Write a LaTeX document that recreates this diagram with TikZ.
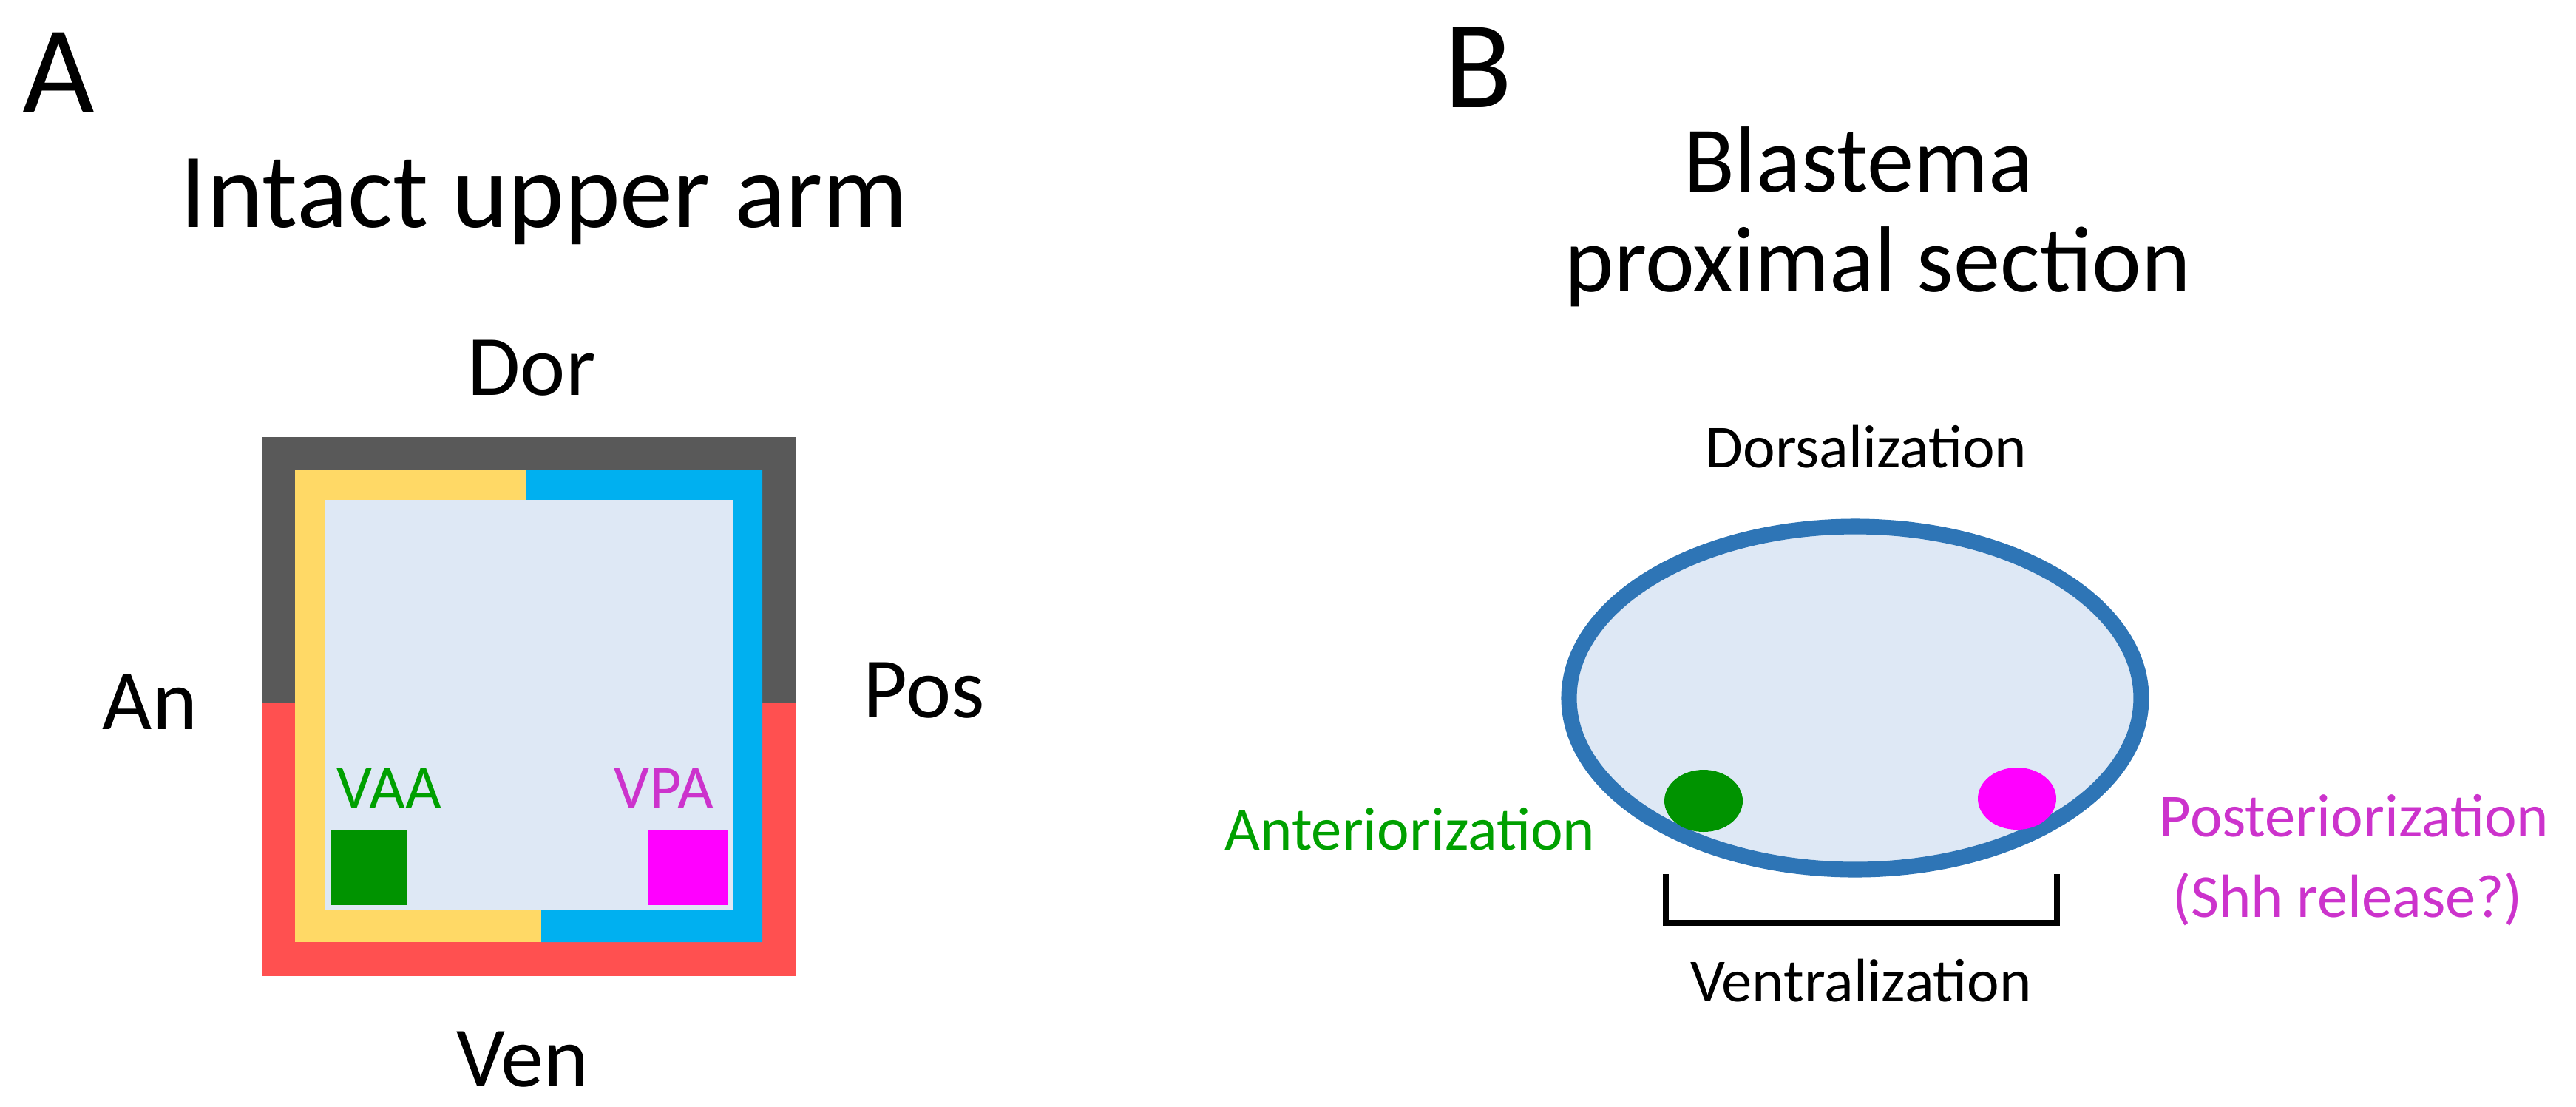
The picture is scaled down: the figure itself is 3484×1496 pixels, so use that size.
\documentclass[tikz,border=0pt]{standalone}
\usepackage{fontspec}
\setmainfont{Carlito}
\definecolor{dgray}{HTML}{595959}
\definecolor{lred}{HTML}{FF5050}
\definecolor{lyel}{HTML}{FFD966}
\definecolor{lblue}{HTML}{00B0F0}
\definecolor{pale}{HTML}{DEE8F5}
\definecolor{dgreen}{HTML}{009300}
\definecolor{mag}{HTML}{FF00FF}
\definecolor{tmag}{HTML}{CC33CC}
\definecolor{tgreen}{HTML}{00A000}
\definecolor{estroke}{HTML}{2E75B6}
\begin{document}
\begin{tikzpicture}[x=0.01cm,y=-0.01cm,
  lbl/.style={anchor=base,inner sep=0pt},
  fs/.style={font=\fontsize{#1}{#1}\selectfont}]
\useasboundingbox (0,0) rectangle (3484,1496);
% Panel A
\node[lbl,fs=48pt,anchor=base west] (A) at (30,152) {A};
\node[lbl,fs=41pt] (tA) at (736,307) {Intact upper arm};
\fill[lred] (354,591) rectangle (1076,1320);
\fill[dgray] (354,591) rectangle (1076,951);
\fill[lyel] (399,635) rectangle (1031,1274);
\fill[lblue] (712,635) -- (1031,635) -- (1031,1274) -- (732,1274) -- (732,1231) -- (992,1231) -- (992,676) -- (712,676) -- cycle;
\fill[pale] (439,676) rectangle (992,1231);
\fill[dgreen] (447,1122) rectangle (551,1224);
\fill[mag] (876,1122) rectangle (985,1224);
\node[lbl,fs=24pt,text=tgreen] (vaa) at (526,1093) {VAA};
\node[lbl,fs=24pt,text=tmag] (vpa) at (898,1093) {VPA};
\node[lbl,fs=33pt] (dor) at (719,534) {Dor};
\node[lbl,fs=33pt] (an) at (203,986) {An};
\node[lbl,fs=33pt] (pos) at (1250,970) {Pos};
\node[lbl,fs=33pt] (ven) at (707,1469) {Ven};
% Panel B
\node[lbl,fs=48pt,anchor=base east] (B) at (2046,145) {B};
\node[lbl,fs=36pt] (tB) at (2514,259) {Blastema};
\node[lbl,fs=36pt] (tB2) at (2540,394) {proximal section};
\node[lbl,fs=23.5pt] (dz) at (2524,632) {Dorsalization};
\draw[estroke,line width=6pt,fill=pale] (2509,944) ellipse [x radius=387, y radius=232];
\begin{scope}
\clip (2509,944) ellipse [x radius=387, y radius=232];
\fill[dgreen] (2304,1083) ellipse [x radius=53, y radius=42];
\fill[mag] (2728,1080) ellipse [x radius=53, y radius=42];
\end{scope}
\draw[line width=2.3pt] (2253,1182) -- (2253,1248) -- (2782,1248) -- (2782,1182);
\node[lbl,fs=23.5pt,text=tgreen,anchor=base east] (az) at (2158,1149) {Anteriorization};
\node[lbl,fs=23.5pt,text=tmag] (pz) at (3184,1131) {Posteriorization};
\node[lbl,fs=23.5pt,text=tmag] (sh) at (3175,1240) {(Shh release?)};
\node[lbl,fs=23.5pt] (vz) at (2517,1354) {Ventralization};
\end{tikzpicture}
\end{document}
